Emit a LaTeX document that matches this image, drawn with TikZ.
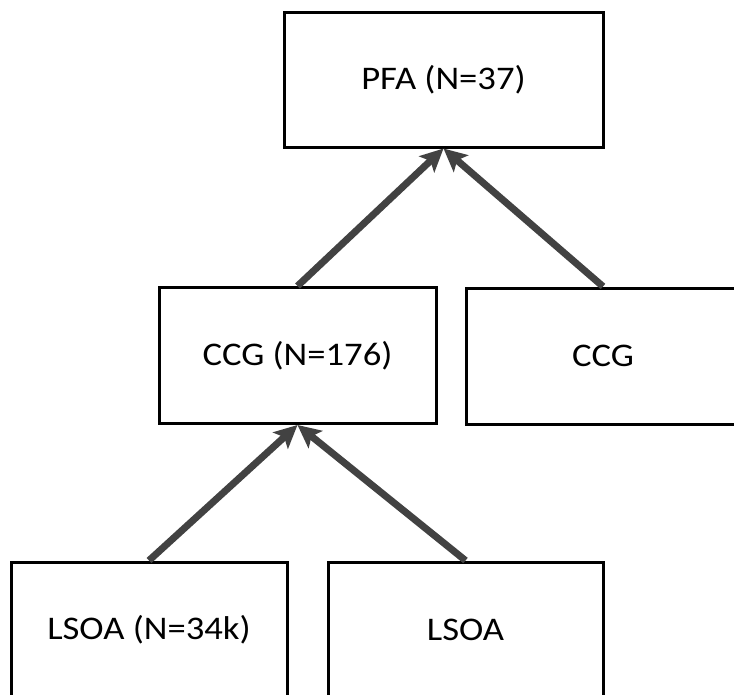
\documentclass[tikz,border=0pt]{standalone}
\usepackage{fontspec}
\setmainfont{Carlito}[FakeStretch=1.11]
\usetikzlibrary{arrows.meta}
\definecolor{arrowgrey}{RGB}{66,66,66}

\begin{document}
\begin{tikzpicture}[
x=1pt,
y=-1pt,
font=\fontsize{33}{40}\selectfont
]

\tikzstyle{b} = [draw, shape=rectangle, line width=3pt, minimum height=136pt, inner sep=0pt]
\tikzstyle{up} = [draw=arrowgrey, line width=7pt, -{Stealth[length=23pt, width=22pt, inset=5pt]}]

\useasboundingbox (0,0) rectangle (734,694);

% top level
\node[b, minimum width=319pt, minimum height=135pt] (pfa) at (443.5,79.5) {PFA (N=37)};

% middle level
\node[b, minimum width=277pt] (ccg1) at (297.5,355.5) {CCG (N=176)};
\node[b, minimum width=274pt] (ccg2) at (603,356) {CCG};

% bottom level
\node[b, minimum width=276pt] (lsoa1) at (149,630) {LSOA (N=34k)};
\node[b, minimum width=275pt] (lsoa2) at (465.5,630) {LSOA};

\draw[up] (ccg1.north) -- (pfa.south);
\draw[up] (ccg2.north) -- (pfa.south);
\draw[up] (lsoa1.north) -- (ccg1.south);
\draw[up] (lsoa2.north) -- (ccg1.south);

\end{tikzpicture}
\end{document}
